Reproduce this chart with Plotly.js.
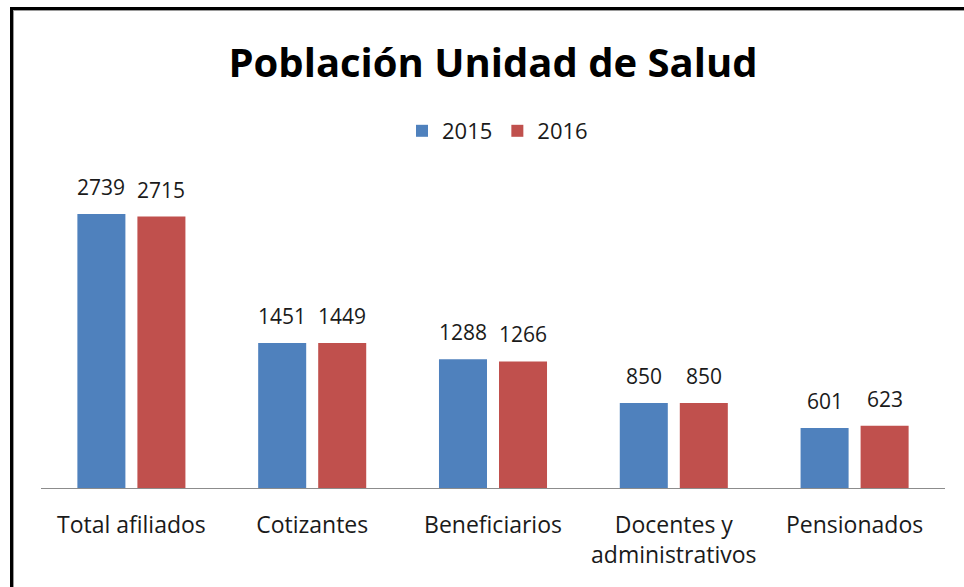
<!DOCTYPE html>
<html>
<head>
<meta charset="utf-8">
<script src="https://cdn.plot.ly/plotly-3.0.1.min.js"></script>
<style>
html,body{margin:0;padding:0;background:#fff;overflow:hidden;}
#wrap{position:relative;width:964px;height:587px;}
#chart{position:absolute;left:0;top:0;width:964px;height:587px;}
#frame{position:absolute;left:10px;top:7px;width:1000px;height:577px;border-left:3px solid #000;border-top:3px solid #000;border-bottom:1px solid #a6a6a6;pointer-events:none;box-shadow:inset 1px 1px 0 #9a9a9a;}
</style>
</head>
<body>
<div id="wrap"><div id="chart"></div><div id="frame"></div></div>
<script>
const categories = ["Total afiliados", "Cotizantes", "Beneficiarios", "Docentes y<br>administrativos", "Pensionados"];
const seriesNames = ["2015", "2016"];
const values2015 = [2739, 1451, 1288, 850, 601];
const values2016 = [2715, 1449, 1266, 850, 623];
const colors = ["#4F81BD", "#C0504D"];

const FONT = "Open Sans, Noto Sans, sans-serif";
const allSeries = [values2015, values2016];

const traces = allSeries.map((vals, i) => ({
  type: "bar",
  name: seriesNames[i],
  x: categories,
  y: vals,
  marker: {color: colors[i], line: {width: 0}},
  hoverinfo: "x+y"
}));

const annotations = [];
allSeries.forEach((vals, i) => {
  vals.forEach((v, j) => {
    annotations.push({
      x: categories[j], y: v, xref: "x", yref: "y",
      text: String(v), showarrow: false,
      xshift: i === 0 ? -30 : 30, yshift: 11,
      yanchor: "bottom", xanchor: "center",
      font: {family: FONT, size: 21, color: "#1a1a1a"}
    });
  });
});

const layout = {
  width: 964, height: 587,
  paper_bgcolor: "#fff", plot_bgcolor: "#fff",
  margin: {l: 41, r: 19, t: 188, b: 99, pad: 0},
  barmode: "group",
  bargap: 0.336,
  bargroupgap: 0.2,
  title: {
    text: "<b>Población Unidad de Salud</b>",
    font: {family: FONT, size: 40, color: "#000"},
    x: 0.5, xanchor: "center", xref: "paper",
    y: 0.893, yanchor: "middle", yref: "container"
  },
  showlegend: true,
  legend: {
    orientation: "h", x: 0.505, xanchor: "center", y: 1.19, yanchor: "middle",
    font: {family: FONT, size: 22, color: "#1a1a1a"},
    itemclick: false, itemdoubleclick: false
  },
  xaxis: {
    type: "category",
    showline: true, linecolor: "#8c8c8c", linewidth: 1,
    ticks: "", showgrid: false, zeroline: false,
    ticklabelstandoff: 16,
    tickfont: {family: FONT, size: 23, color: "#1a1a1a"}
  },
  yaxis: {
    range: [0, 3000], visible: false, showgrid: false, zeroline: false
  },
  annotations: annotations
};

Plotly.newPlot("chart", traces, layout, {displayModeBar: false, staticPlot: true});
</script>
</body>
</html>
